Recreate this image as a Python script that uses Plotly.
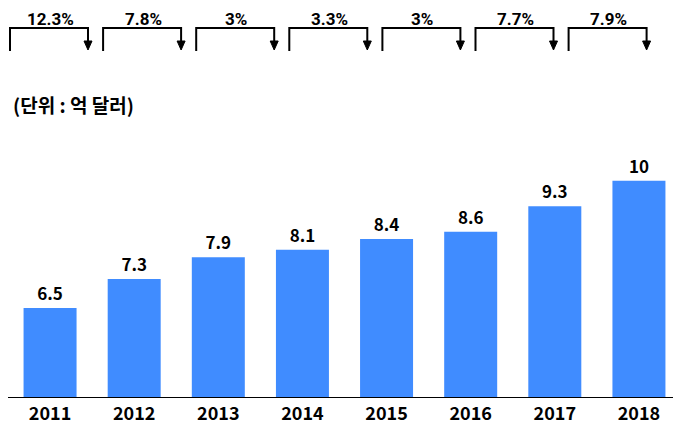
import plotly.graph_objects as go

# market size per year (unit: 100 million dollars)
years = ['2011', '2012', '2013', '2014', '2015', '2016', '2017', '2018']
market_size = [6.5, 7.3, 7.9, 8.1, 8.4, 8.6, 9.3, 10]

# year-on-year growth shown in the brackets on top
growth_labels = ['12.3%', '7.8%', '3%', '3.3%', '3%', '7.7%', '7.9%']

unit_label = '(단위 : 억 달러)'

# the page body has an 8px margin, so the figure is drawn 8px smaller
# and all the pixel positions below are given in window terms minus 8
OFF = 8
W, H = 681 - OFF, 426 - OFF
M = dict(l=0, r=0, t=130 - OFF, b=H - (397 - OFF))
FONT = 'Noto Sans CJK KR'
BAR_COLOR = '#408CFF'


# helpers to place the decoration in window pixels
def px_x(px):
    return (px - OFF - M['l']) / (W - M['l'] - M['r'])


def px_y(py):
    return (H - M['b'] - (py - OFF)) / (H - M['t'] - M['b'])


fig = go.Figure()
fig.add_trace(go.Bar(
    x=years,
    y=market_size,
    marker=dict(color=BAR_COLOR, line=dict(width=0)),
    text=[f'{v:g}' for v in market_size],
    textposition='outside',
    textfont=dict(family=FONT, size=17, color='black', weight='bold'),
    constraintext='none',
    cliponaxis=False,
    showlegend=False,
))

shapes = []
annotations = []
line_style = dict(color='black', width=2)
for i, g in enumerate(growth_labels):
    left = 10 + 93.1 * i
    right = left + 78
    # bracket: up from left, across, down to arrow on right
    shapes.append(dict(type='path', xref='paper', yref='paper',
                       path=f'M {px_x(left)},{px_y(51)} L {px_x(left)},{px_y(28)} '
                            f'L {px_x(right)},{px_y(28)} L {px_x(right)},{px_y(42)}',
                       line=line_style))
    shapes.append(dict(type='path', xref='paper', yref='paper',
                       path=f'M {px_x(right - 4)},{px_y(41)} L {px_x(right + 4)},{px_y(41)} '
                            f'L {px_x(right)},{px_y(50)} Z',
                       fillcolor='black', line=dict(color='black', width=1)))
    # label sits just above the bracket (Roboto keeps the glyph box inside the top edge)
    annotations.append(dict(text=g, xref='paper', yref='paper',
                            x=px_x(left + 40), y=px_y(19), showarrow=False,
                            xanchor='center', yanchor='middle',
                            font=dict(family='Roboto', size=17, color='black', weight='bold')))

annotations.append(dict(text=unit_label, xref='paper', yref='paper',
                        x=px_x(11), y=px_y(104), showarrow=False,
                        xanchor='left', yanchor='middle',
                        font=dict(family=FONT, size=19, color='black', weight='bold')))

fig.update_layout(
    width=W,
    height=H,
    margin=M,
    bargap=0.37,
    plot_bgcolor='white',
    paper_bgcolor='white',
    shapes=shapes,
    annotations=annotations,
    xaxis=dict(
        showline=True,
        linecolor='black',
        linewidth=1,
        ticks='',
        showgrid=False,
        tickfont=dict(family=FONT, size=18, color='black', weight='bold'),
    ),
    yaxis=dict(
        range=[4.05, 4.05 + (397 - 130) / 36.33],
        visible=False,
        showgrid=False,
        zeroline=False,
    ),
)

fig.write_html('out.html')
